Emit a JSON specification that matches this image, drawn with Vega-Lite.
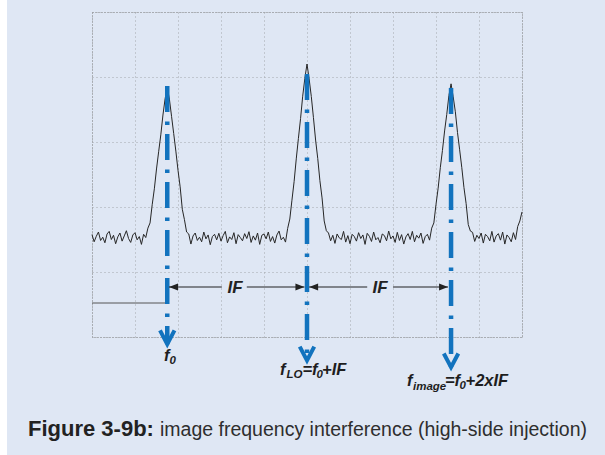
{
  "$schema": "https://vega.github.io/schema/vega-lite/v6.json",
  "autosize": {"type": "none"},
  "width": 430,
  "height": 325,
  "padding": {"left": 92, "top": 12, "right": 83, "bottom": 118},
  "background": "#dfe7f4",
  "config": {
    "view": {"stroke": "#7d7d7d", "strokeDash": [1, 2], "strokeWidth": 1},
    "axis": {"grid": true, "gridColor": "#a2a6ad", "gridDash": [1, 3], "gridWidth": 1, "labels": false, "ticks": false, "domain": false, "title": null}
  },
  "datasets": {
    "trace": [
      {"x":0.00,"y":3.15},{"x":0.05,"y":2.93},{"x":0.10,"y":3.10},{"x":0.15,"y":3.23},{"x":0.20,"y":2.97},{"x":0.25,"y":3.07},{"x":0.30,"y":2.90},{"x":0.35,"y":3.17},{"x":0.40,"y":3.25},{"x":0.45,"y":3.00},
      {"x":0.50,"y":3.13},{"x":0.55,"y":2.87},{"x":0.60,"y":3.08},{"x":0.65,"y":3.20},{"x":0.70,"y":2.95},{"x":0.75,"y":3.11},{"x":0.80,"y":3.27},{"x":0.85,"y":3.03},{"x":0.90,"y":2.91},{"x":0.95,"y":3.14},
      {"x":1.00,"y":3.21},{"x":1.05,"y":2.99},{"x":1.10,"y":3.09},{"x":1.15,"y":2.85},{"x":1.20,"y":3.16},{"x":1.25,"y":3.06},{"x":1.30,"y":3.35},{"x":1.35,"y":3.51},{"x":1.40,"y":4.07},{"x":1.45,"y":4.56},
      {"x":1.50,"y":5.17},{"x":1.55,"y":5.70},{"x":1.60,"y":6.22},{"x":1.65,"y":6.83},{"x":1.70,"y":7.33},{"x":1.75,"y":7.69},{"x":1.80,"y":7.32},{"x":1.85,"y":6.79},{"x":1.90,"y":6.26},{"x":1.95,"y":5.72},
      {"x":2.00,"y":5.13},{"x":2.05,"y":4.62},{"x":2.10,"y":3.93},{"x":2.15,"y":3.61},{"x":2.20,"y":3.23},{"x":2.25,"y":3.17},{"x":2.30,"y":2.86},{"x":2.35,"y":3.11},{"x":2.40,"y":3.20},{"x":2.45,"y":2.97},
      {"x":2.50,"y":3.07},{"x":2.55,"y":2.93},{"x":2.60,"y":3.23},{"x":2.65,"y":3.02},{"x":2.70,"y":3.14},{"x":2.75,"y":2.84},{"x":2.80,"y":3.09},{"x":2.85,"y":3.16},{"x":2.90,"y":2.99},{"x":2.95,"y":3.19},
      {"x":3.00,"y":2.95},{"x":3.05,"y":3.12},{"x":3.10,"y":3.25},{"x":3.15,"y":2.90},{"x":3.20,"y":3.08},{"x":3.25,"y":3.00},{"x":3.30,"y":3.21},{"x":3.35,"y":2.87},{"x":3.40,"y":3.15},{"x":3.45,"y":3.06},
      {"x":3.50,"y":2.96},{"x":3.55,"y":3.18},{"x":3.60,"y":3.03},{"x":3.65,"y":3.24},{"x":3.70,"y":2.91},{"x":3.75,"y":3.11},{"x":3.80,"y":2.98},{"x":3.85,"y":3.20},{"x":3.90,"y":2.85},{"x":3.95,"y":3.13},
      {"x":4.00,"y":3.17},{"x":4.05,"y":3.02},{"x":4.10,"y":3.23},{"x":4.15,"y":2.94},{"x":4.20,"y":3.09},{"x":4.25,"y":2.89},{"x":4.30,"y":3.14},{"x":4.35,"y":3.26},{"x":4.40,"y":2.99},{"x":4.45,"y":3.07},
      {"x":4.50,"y":2.92},{"x":4.55,"y":3.34},{"x":4.60,"y":3.63},{"x":4.65,"y":4.21},{"x":4.70,"y":4.78},{"x":4.75,"y":5.48},{"x":4.80,"y":6.11},{"x":4.85,"y":6.72},{"x":4.90,"y":7.41},{"x":4.95,"y":7.96},
      {"x":5.00,"y":8.40},{"x":5.05,"y":7.94},{"x":5.10,"y":7.40},{"x":5.15,"y":6.75},{"x":5.20,"y":6.06},{"x":5.25,"y":5.49},{"x":5.30,"y":4.81},{"x":5.35,"y":4.28},{"x":5.40,"y":3.57},{"x":5.45,"y":3.27},
      {"x":5.50,"y":3.20},{"x":5.55,"y":2.96},{"x":5.60,"y":3.13},{"x":5.65,"y":2.88},{"x":5.70,"y":3.17},{"x":5.75,"y":3.05},{"x":5.80,"y":3.00},{"x":5.85,"y":3.25},{"x":5.90,"y":2.92},{"x":5.95,"y":3.12},
      {"x":6.00,"y":2.87},{"x":6.05,"y":3.16},{"x":6.10,"y":3.09},{"x":6.15,"y":2.95},{"x":6.20,"y":3.21},{"x":6.25,"y":3.03},{"x":6.30,"y":3.14},{"x":6.35,"y":2.85},{"x":6.40,"y":3.19},{"x":6.45,"y":3.10},
      {"x":6.50,"y":2.94},{"x":6.55,"y":3.23},{"x":6.60,"y":2.99},{"x":6.65,"y":3.06},{"x":6.70,"y":2.90},{"x":6.75,"y":3.17},{"x":6.80,"y":3.12},{"x":6.85,"y":2.96},{"x":6.90,"y":3.26},{"x":6.95,"y":3.02},
      {"x":7.00,"y":3.11},{"x":7.05,"y":2.91},{"x":7.10,"y":3.22},{"x":7.15,"y":2.97},{"x":7.20,"y":3.15},{"x":7.25,"y":2.86},{"x":7.30,"y":3.08},{"x":7.35,"y":3.18},{"x":7.40,"y":3.00},{"x":7.45,"y":3.25},
      {"x":7.50,"y":2.93},{"x":7.55,"y":3.13},{"x":7.60,"y":3.04},{"x":7.65,"y":3.20},{"x":7.70,"y":2.88},{"x":7.75,"y":3.09},{"x":7.80,"y":3.16},{"x":7.85,"y":2.98},{"x":7.90,"y":3.35},{"x":7.95,"y":3.51},
      {"x":8.00,"y":4.08},{"x":8.05,"y":4.58},{"x":8.10,"y":5.21},{"x":8.15,"y":5.74},{"x":8.20,"y":6.34},{"x":8.25,"y":6.85},{"x":8.30,"y":7.43},{"x":8.35,"y":7.79},{"x":8.40,"y":7.39},{"x":8.45,"y":6.93},
      {"x":8.50,"y":6.29},{"x":8.55,"y":5.76},{"x":8.60,"y":5.21},{"x":8.65,"y":4.60},{"x":8.70,"y":4.11},{"x":8.75,"y":3.46},{"x":8.80,"y":3.26},{"x":8.85,"y":3.22},{"x":8.90,"y":2.94},{"x":8.95,"y":3.13},
      {"x":9.00,"y":3.03},{"x":9.05,"y":3.20},{"x":9.10,"y":2.89},{"x":9.15,"y":3.16},{"x":9.20,"y":3.09},{"x":9.25,"y":2.96},{"x":9.30,"y":3.25},{"x":9.35,"y":2.92},{"x":9.40,"y":3.11},{"x":9.45,"y":3.18},
      {"x":9.50,"y":2.98},{"x":9.55,"y":3.23},{"x":9.60,"y":2.86},{"x":9.65,"y":3.14},{"x":9.70,"y":3.06},{"x":9.75,"y":2.93},{"x":9.80,"y":3.21},{"x":9.85,"y":3.00},{"x":9.90,"y":3.40},{"x":9.95,"y":3.57},
      {"x":10.00,"y":3.85}
    ],
    "markers": [
      {"x": 1.75, "top": 7.72, "tip": -0.22},
      {"x": 5.00, "top": 8.09, "tip": -0.72},
      {"x": 8.35, "top": 7.66, "tip": -0.93}
    ],
    "ifLines": [
      {"x": 1.79, "x2": 3.02, "y": 1.538},
      {"x": 3.60, "x2": 4.94, "y": 1.538},
      {"x": 5.05, "x2": 6.40, "y": 1.538},
      {"x": 7.00, "x2": 8.28, "y": 1.538}
    ],
    "headsLeft": [{"x": 1.79, "y": 1.538}, {"x": 5.05, "y": 1.538}],
    "headsRight": [{"x": 4.94, "y": 1.538}, {"x": 8.28, "y": 1.538}],
    "ifText": [{"x": 3.326, "y": 1.354, "t": "IF"}, {"x": 6.698, "y": 1.354, "t": "IF"}],
    "mainText": [
      {"x": 1.674, "y": -0.738, "t": "f"},
      {"x": 4.372, "y": -1.169, "t": "f"},
      {"x": 4.895, "y": -1.169, "t": "=f"},
      {"x": 5.349, "y": -1.169, "t": "+IF"},
      {"x": 7.326, "y": -1.508, "t": "f"},
      {"x": 8.209, "y": -1.508, "t": "=f"},
      {"x": 8.686, "y": -1.508, "t": "+2xIF"}
    ],
    "subText": [
      {"x": 1.802, "y": -0.846, "t": "0"},
      {"x": 4.523, "y": -1.262, "t": "LO"},
      {"x": 5.221, "y": -1.262, "t": "0"},
      {"x": 7.465, "y": -1.631, "t": "image"},
      {"x": 8.547, "y": -1.6, "t": "0"}
    ],
    "darkSeg": [{"x": 0, "x2": 1.70, "y": 1.046}],
    "strip": [{"x": -2.3, "x2": -1.977, "y": -3.8, "y2": 10.5}],
    "capBold": [{"x": -1.488, "y": -3.046, "t": "Figure 3-9b:"}],
    "capReg": [{"x": 1.581, "y": -3.046, "t": "image frequency interference (high-side injection)"}]
  },
  "layer": [
    {
      "data": {"name": "strip"},
      "mark": {"type": "rect", "color": "#ffffff", "clip": false},
      "encoding": {
        "x": {"field": "x", "type": "quantitative", "scale": {"domain": [0, 10], "nice": false, "zero": false}, "axis": {"values": [0,1,2,3,4,5,6,7,8,9,10]}},
        "x2": {"field": "x2"},
        "y": {"field": "y", "type": "quantitative", "scale": {"domain": [0, 10], "nice": false, "zero": false}, "axis": {"values": [0,1,2,3,4,5,6,7,8,9,10]}},
        "y2": {"field": "y2"}
      }
    },
    {
      "data": {"name": "darkSeg"},
      "mark": {"type": "rule", "color": "#555555", "strokeWidth": 1},
      "encoding": {"x": {"field": "x", "type": "quantitative"}, "x2": {"field": "x2"}, "y": {"field": "y", "type": "quantitative"}}
    },
    {
      "data": {"name": "trace"},
      "mark": {"type": "line", "color": "#262626", "strokeWidth": 1, "interpolate": "linear"},
      "encoding": {"x": {"field": "x", "type": "quantitative"}, "y": {"field": "y", "type": "quantitative"}}
    },
    {
      "data": {"name": "markers"},
      "mark": {"type": "rule", "color": "#1273be", "strokeWidth": 4.5, "strokeDash": [26, 9.5, 3.5, 9], "strokeCap": "butt"},
      "encoding": {"x": {"field": "x", "type": "quantitative"}, "y": {"field": "top", "type": "quantitative"}, "y2": {"field": "tip"}}
    },
    {
      "data": {"name": "markers"},
      "mark": {"type": "point", "shape": "M -1 -1.9 L 0 0 L 1 -1.9", "size": 210, "filled": false, "color": "#1273be", "strokeWidth": 4, "opacity": 1},
      "encoding": {"x": {"field": "x", "type": "quantitative"}, "y": {"field": "tip", "type": "quantitative"}}
    },
    {
      "data": {"name": "ifLines"},
      "mark": {"type": "rule", "color": "#222222", "strokeWidth": 1.2},
      "encoding": {"x": {"field": "x", "type": "quantitative"}, "x2": {"field": "x2"}, "y": {"field": "y", "type": "quantitative"}}
    },
    {
      "data": {"name": "headsLeft"},
      "mark": {"type": "point", "shape": "M 0 0 L 2 -0.8 L 2 0.8 Z", "size": 81, "filled": true, "color": "#222222", "opacity": 1},
      "encoding": {"x": {"field": "x", "type": "quantitative"}, "y": {"field": "y", "type": "quantitative"}}
    },
    {
      "data": {"name": "headsRight"},
      "mark": {"type": "point", "shape": "M 0 0 L -2 -0.8 L -2 0.8 Z", "size": 81, "filled": true, "color": "#222222", "opacity": 1},
      "encoding": {"x": {"field": "x", "type": "quantitative"}, "y": {"field": "y", "type": "quantitative"}}
    },
    {
      "data": {"name": "ifText"},
      "mark": {"type": "text", "font": "Liberation Sans", "fontSize": 17, "fontWeight": "bold", "fontStyle": "italic", "align": "center", "baseline": "alphabetic", "color": "#222222"},
      "encoding": {"x": {"field": "x", "type": "quantitative"}, "y": {"field": "y", "type": "quantitative"}, "text": {"field": "t"}}
    },
    {
      "data": {"name": "mainText"},
      "mark": {"type": "text", "font": "Liberation Sans", "fontSize": 16.5, "fontWeight": "bold", "fontStyle": "italic", "align": "left", "baseline": "alphabetic", "color": "#1e1e1e"},
      "encoding": {"x": {"field": "x", "type": "quantitative"}, "y": {"field": "y", "type": "quantitative"}, "text": {"field": "t"}}
    },
    {
      "data": {"name": "subText"},
      "mark": {"type": "text", "font": "Liberation Sans", "fontSize": 11.5, "fontWeight": "bold", "fontStyle": "italic", "align": "left", "baseline": "alphabetic", "color": "#1e1e1e"},
      "encoding": {"x": {"field": "x", "type": "quantitative"}, "y": {"field": "y", "type": "quantitative"}, "text": {"field": "t"}}
    },
    {
      "data": {"name": "capBold"},
      "mark": {"type": "text", "font": "Liberation Sans", "fontSize": 22, "fontWeight": "bold", "align": "left", "baseline": "alphabetic", "color": "#222222"},
      "encoding": {"x": {"field": "x", "type": "quantitative"}, "y": {"field": "y", "type": "quantitative"}, "text": {"field": "t"}}
    },
    {
      "data": {"name": "capReg"},
      "mark": {"type": "text", "font": "Liberation Sans", "fontSize": 19.5, "align": "left", "baseline": "alphabetic", "color": "#2e2e2e"},
      "encoding": {"x": {"field": "x", "type": "quantitative"}, "y": {"field": "y", "type": "quantitative"}, "text": {"field": "t"}}
    }
  ]
}
